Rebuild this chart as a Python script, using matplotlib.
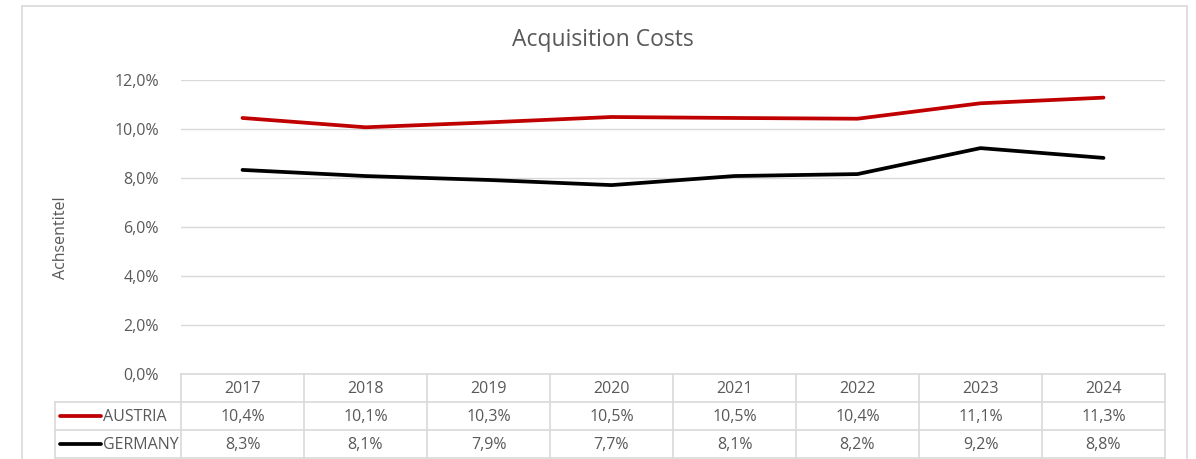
import matplotlib.pyplot as plt
from matplotlib.patches import Rectangle
from matplotlib.lines import Line2D

years = ["2017", "2018", "2019", "2020", "2021", "2022", "2023", "2024"]
austria = [10.45, 10.07, 10.27, 10.49, 10.45, 10.42, 11.05, 11.28]
germany = [8.33, 8.08, 7.92, 7.71, 8.08, 8.16, 9.22, 8.82]
austria_lbl = ["10,4%", "10,1%", "10,3%", "10,5%", "10,5%", "10,4%", "11,1%", "11,3%"]
germany_lbl = ["8,3%", "8,1%", "7,9%", "7,7%", "8,1%", "8,2%", "9,2%", "8,8%"]
yticks = [0, 2, 4, 6, 8, 10, 12]

plt.rcParams['font.family'] = ['Open Sans', 'DejaVu Sans']
TXT = '#595959'
GRID = '#d9d9d9'
RED = '#c00000'
FS = 11.5

W, H = 1196, 459
fig = plt.figure(figsize=(W / 100, H / 100), dpi=100)

# outer chart frame
fig.patches.append(Rectangle((22 / W, -0.05), (1187 - 22) / W, (H - 6) / H + 0.05,
                             transform=fig.transFigure, fill=False, ec=GRID, lw=1.2))

L, R, T, B = 181, 1165, 80, 374
ax = fig.add_axes([L / W, (H - B) / H, (R - L) / W, (B - T) / H])
x = list(range(len(years)))
ax.plot(x, austria, color=RED, lw=2.7, solid_capstyle='round', zorder=3)
ax.plot(x, germany, color='black', lw=2.7, solid_capstyle='round', zorder=3)
ax.set_xlim(-0.5, len(years) - 0.5)
ax.set_ylim(0, 12)
ax.set_yticks(yticks)
ax.set_yticklabels([f"{v:.1f}%".replace('.', ',') for v in yticks], color=TXT, fontsize=FS)
ax.tick_params(axis='y', length=0, pad=16)
ax.set_xticks([])
ax.grid(axis='y', color=GRID, lw=1)
ax.set_axisbelow(True)
for s in ax.spines.values():
    s.set_visible(False)
ax.set_ylabel("Achsentitel", color=TXT, fontsize=FS)
ax.yaxis.set_label_coords((69 - L) / (R - L), (B - 238) / (B - T))

fig.text(603 / W, 1 - 40 / H, "Acquisition Costs", ha='center', va='center',
         color=TXT, fontsize=16.5)

# data table under the axis
rh = 28 / (B - T)  # row height in axes units
tf = ax.transAxes
lx = (55 - L) / (R - L)
kw = dict(transform=tf, clip_on=False, color=GRID, lw=1.2)
# horizontal lines
ax.add_line(Line2D([0, 1], [0, 0], **kw))
for k in (1, 2, 3):
    ax.add_line(Line2D([lx, 1], [-k * rh, -k * rh], **kw))
# vertical lines
ax.add_line(Line2D([lx, lx], [-rh, -3 * rh], **kw))
for i in range(len(years) + 1):
    xf = i / len(years)
    ax.add_line(Line2D([xf, xf], [0, -3 * rh], **kw))

for i, yr in enumerate(years):
    xc = (i + 0.5) / len(years)
    ax.text(xc, -0.55 * rh, yr, transform=tf, ha='center', va='center', color=TXT, fontsize=FS)
    ax.text(xc, -1.55 * rh, austria_lbl[i], transform=tf, ha='center', va='center', color=TXT, fontsize=FS)
    ax.text(xc, -2.55 * rh, germany_lbl[i], transform=tf, ha='center', va='center', color=TXT, fontsize=FS)

for k, (name, col) in enumerate([("AUSTRIA", RED), ("GERMANY", 'black')]):
    yy = -(k + 1.5) * rh
    x0 = (60 - L) / (R - L)
    x1 = (101 - L) / (R - L)
    ax.add_line(Line2D([x0, x1], [yy, yy], transform=tf, clip_on=False, color=col,
                       lw=2.7, solid_capstyle='round'))
    ax.text((103 - L) / (R - L), yy - 0.05 * rh, name, transform=tf, ha='left', va='center',
            color=TXT, fontsize=FS)

fig.savefig('out.png', dpi=100)
